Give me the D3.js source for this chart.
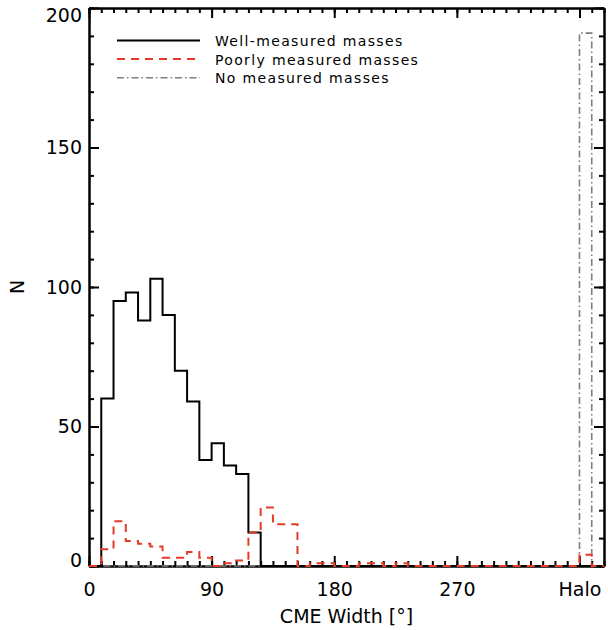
<!DOCTYPE html>
<html>
<head>
<meta charset="utf-8">
<script src="https://cdn.jsdelivr.net/npm/d3@7"></script>
<style>
body { margin: 0; background: #fff; }
svg { display: block; }
.axis text { font-family: "DejaVu Sans", sans-serif; font-size: 19px; fill: #000; }
.axis path, .axis line { stroke: #000; stroke-width: 2; }
</style>
</head>
<body>
<svg width="608" height="630"></svg>
<script>
// bins of 9 degrees, 0..378 (bin 40 = Halo)
const binWidth = 9;
const wellMeasured = [0, 60, 95, 98, 88, 103, 90, 70, 59, 38, 44, 36, 33, 12, 0, 0, 0, 0, 0, 0, 0,
  0, 0, 0, 0, 0, 0, 0, 0, 0, 0, 0, 0, 0, 0, 0, 0, 0, 0, 0, 0, 0];
const poorlyMeasured = [0, 6, 16, 9, 8, 7, 3, 3, 5, 3, 0, 1, 2, 12, 21, 15, 15, 0, 1, 1, 0,
  0, 1, 1, 0, 1, 0, 0, 0, 0, 0, 0, 0, 0, 0, 0, 0, 0, 0, 0, 4, 0];
const noMeasured = [0, 0, 0, 0, 0, 0, 0, 0, 0, 0, 0, 0, 0, 0, 0, 0, 0, 0, 0, 0, 0,
  0, 0, 0, 0, 0, 0, 0, 0, 0, 0, 0, 0, 0, 0, 0, 0, 0, 0, 0, 191, 0];
const xTicks = [0, 90, 180, 270, 360];
const xTickLabels = ["0", "90", "180", "270", "Halo"];
const yTicks = [0, 50, 100, 150, 200];
const legendNames = ["Well-measured masses", "Poorly measured masses", "No measured masses"];

let svg = d3.select("svg");
let mLeft = 89, mRight = 604, mTop = 8, mBottom = 566;

let x = d3.scaleLinear().domain([0, 378]).range([mLeft, mRight]);
let y = d3.scaleLinear().domain([0, 200]).range([mBottom, mTop]);

// step line from bin edges
function stepPoints(arr) {
  let pts = arr.map((v, i) => [i * binWidth, v]);
  pts.push([arr.length * binWidth, arr[arr.length - 1]]);
  return pts;
}
let line = d3.line().x(d => x(d[0])).y(d => y(d[1])).curve(d3.curveStepAfter);

let styles = [
  { color: "#000", width: 2, dash: null },
  { color: "#e33b27", width: 2, dash: "8,6" },
  { color: "#7f7f7f", width: 1.6, dash: "7,3,1.5,3" }
];

// axes
let minorX = d3.range(0, 379, 9), minorY = d3.range(0, 201, 10);

svg.append("g").attr("class", "axis").attr("transform", `translate(0,${mBottom})`)
  .call(d3.axisBottom(x).tickValues(minorX).tickSize(-5).tickSizeOuter(0).tickFormat(""));
svg.append("g").attr("class", "axis").attr("transform", `translate(0,${mTop})`)
  .call(d3.axisTop(x).tickValues(minorX).tickSize(-5).tickSizeOuter(0).tickFormat(""));
svg.append("g").attr("class", "axis").attr("transform", `translate(${mLeft},0)`)
  .call(d3.axisLeft(y).tickValues(minorY).tickSize(-5).tickSizeOuter(0).tickFormat(""));
svg.append("g").attr("class", "axis").attr("transform", `translate(${mRight},0)`)
  .call(d3.axisRight(y).tickValues(minorY).tickSize(-5).tickSizeOuter(0).tickFormat(""));

svg.append("g").attr("class", "axis").attr("transform", `translate(0,${mBottom})`)
  .call(d3.axisBottom(x).tickValues(xTicks).tickSize(-10).tickSizeOuter(0).tickPadding(17)
    .tickFormat((d, i) => xTickLabels[i]));
svg.append("g").attr("class", "axis").attr("transform", `translate(0,${mTop})`)
  .call(d3.axisTop(x).tickValues(xTicks).tickSize(-10).tickSizeOuter(0).tickFormat(""));
let yAx = svg.append("g").attr("class", "axis").attr("transform", `translate(${mLeft},0)`)
  .call(d3.axisLeft(y).tickValues(yTicks).tickSize(-10).tickSizeOuter(0).tickPadding(7));
svg.append("g").attr("class", "axis").attr("transform", `translate(${mRight},0)`)
  .call(d3.axisRight(y).tickValues(yTicks).tickSize(-10).tickSizeOuter(0).tickFormat(""));
// end labels sit inside the frame
yAx.selectAll("text").attr("dy", d => d == 200 ? "0.7em" : d == 0 ? "0" : "0.32em");

// histograms
[noMeasured, wellMeasured, poorlyMeasured].forEach(function(arr) {
  let s = arr == wellMeasured ? styles[0] : arr == poorlyMeasured ? styles[1] : styles[2];
  svg.append("path")
    .datum(stepPoints(arr))
    .attr("d", line)
    .attr("fill", "none")
    .attr("stroke", s.color)
    .attr("stroke-width", s.width)
    .attr("stroke-dasharray", s.dash);
});

// legend
let lg = svg.append("g");
legendNames.forEach(function(name, i) {
  let ly = 40.5 + i * 18.6;
  lg.append("line").attr("x1", 117).attr("x2", 200).attr("y1", ly).attr("y2", ly)
    .attr("stroke", styles[i].color).attr("stroke-width", styles[i].width)
    .attr("stroke-dasharray", styles[i].dash);
  lg.append("text").attr("x", 215).attr("y", ly + 5.5)
    .style("font-family", "DejaVu Sans, sans-serif").style("font-size", "14px")
    .style("letter-spacing", "1.35px")
    .text(name);
});

// axis titles
svg.append("text").attr("x", (mLeft + mRight) / 2).attr("y", 623)
  .attr("text-anchor", "middle")
  .style("font-family", "DejaVu Sans, sans-serif").style("font-size", "19px")
  .text("CME Width [°]");
svg.append("text").attr("transform", `translate(24,${(mTop + mBottom) / 2}) rotate(-90)`)
  .attr("text-anchor", "middle")
  .style("font-family", "DejaVu Sans, sans-serif").style("font-size", "19px")
  .text("N");
</script>
</body>
</html>
